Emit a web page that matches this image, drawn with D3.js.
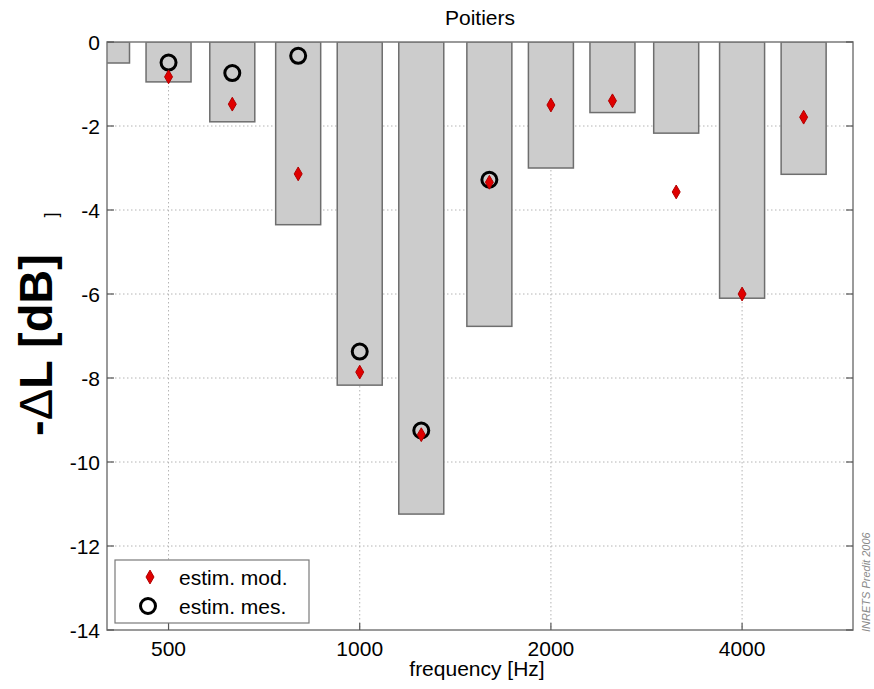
<!DOCTYPE html>
<html>
<head>
<meta charset="utf-8">
<script src="https://cdn.jsdelivr.net/npm/d3@7"></script>
<style>
  html, body { margin: 0; padding: 0; background: #fff; }
  svg { display: block; font-family: Arial, "Liberation Sans", sans-serif; }
</style>
</head>
<body>
<svg id="chart" width="874" height="689"></svg>
<script>
// Third-octave band centre frequencies (Hz)
const bands = [400, 500, 630, 800, 1000, 1250, 1600, 2000, 2500, 3150, 4000, 5000];
// Insertion loss per band, -ΔL (dB)
const deltaL = [-0.5, -0.95, -1.9, -4.35, -8.17, -11.24, -6.77, -3.0, -1.68, -2.17, -6.1, -3.15];
// Model estimate (null = not computed for that band)
const estimMod = [null, -0.83, -1.48, -3.14, -7.86, -9.35, -3.34, -1.5, -1.4, -3.57, -6.0, -1.79];
// Measurement estimate
const estimMes = [null, -0.49, -0.74, -0.33, -7.37, -9.25, -3.28, null, null, null, null, null];
// Axis ticks
const xTicks = [500, 1000, 2000, 4000];
const yTicks = [0, -2, -4, -6, -8, -10, -12, -14];

const svg = d3.select("#chart");
const m = { left: 107, right: 853, top: 42, bottom: 630 };

const x = d3.scaleLog().domain([400, 5980]).range([m.left, m.right]);
const y = d3.scaleLinear().domain([0, -14]).range([m.top, m.bottom]);

const axisColor = "#7a7a7a";
const barHalf = Math.pow(2, 0.1177); // bar spans ±0.118 octave around the band centre

svg.append("defs").append("clipPath").attr("id", "plotClip")
  .append("rect")
  .attr("x", m.left).attr("y", m.top)
  .attr("width", m.right - m.left).attr("height", m.bottom - m.top);

// Dotted grid
const grid = svg.append("g").attr("stroke", "#b4b4b4").attr("stroke-width", 1)
  .attr("stroke-dasharray", "1.5,2.5");
grid.selectAll("line.gy").data(yTicks.slice(1, -1)).join("line")
  .attr("x1", m.left).attr("x2", m.right)
  .attr("y1", d => y(d)).attr("y2", d => y(d));
grid.selectAll("line.gx").data(xTicks).join("line")
  .attr("x1", d => x(d)).attr("x2", d => x(d))
  .attr("y1", m.top).attr("y2", m.bottom);

// Bars
svg.append("g").attr("clip-path", "url(#plotClip)")
  .selectAll("rect").data(bands).join("rect")
  .attr("x", d => x(d / barHalf))
  .attr("width", d => x(d * barHalf) - x(d / barHalf))
  .attr("y", y(0))
  .attr("height", (d, i) => y(deltaL[i]) - y(0))
  .attr("fill", "#cccccc")
  .attr("stroke", "#6e6e6e")
  .attr("stroke-width", 1.5);

// Measurement estimates (open circles)
svg.append("g").selectAll("circle")
  .data(bands.map((f, i) => ({ f, v: estimMes[i] })).filter(d => d.v !== null))
  .join("circle")
  .attr("cx", d => x(d.f)).attr("cy", d => y(d.v))
  .attr("r", 7.5)
  .attr("fill", "none").attr("stroke", "#000").attr("stroke-width", 3);

// Model estimates (red diamonds)
const diamond = d3.symbol().type(d3.symbolDiamond).size(55);
svg.append("g").selectAll("path")
  .data(bands.map((f, i) => ({ f, v: estimMod[i] })).filter(d => d.v !== null))
  .join("path")
  .attr("transform", d => `translate(${x(d.f)},${y(d.v)})`)
  .attr("d", diamond)
  .attr("fill", "#e00000").attr("stroke", "#b00000").attr("stroke-width", 1);

// Axes box
svg.append("rect")
  .attr("x", m.left).attr("y", m.top)
  .attr("width", m.right - m.left).attr("height", m.bottom - m.top)
  .attr("fill", "none").attr("stroke", axisColor).attr("stroke-width", 1.5);

// Inward ticks
const tickLen = 7;
const ticks = svg.append("g").attr("stroke", "#555").attr("stroke-width", 1.2);
yTicks.forEach(t => {
  ticks.append("line").attr("x1", m.left).attr("x2", m.left + tickLen).attr("y1", y(t)).attr("y2", y(t));
  ticks.append("line").attr("x1", m.right).attr("x2", m.right - tickLen).attr("y1", y(t)).attr("y2", y(t));
});
xTicks.forEach(t => {
  ticks.append("line").attr("x1", x(t)).attr("x2", x(t)).attr("y1", m.bottom).attr("y2", m.bottom - tickLen);
});

// Tick labels (plain hyphen for negatives)
svg.append("g").selectAll("text").data(yTicks).join("text")
  .attr("x", m.left - 7).attr("y", d => y(d)).attr("dy", "0.36em")
  .attr("text-anchor", "end").attr("font-size", 21).attr("fill", "#000")
  .text(d => String(d));
svg.append("g").selectAll("text").data(xTicks).join("text")
  .attr("x", d => x(d)).attr("y", 656)
  .attr("text-anchor", "middle").attr("font-size", 21).attr("fill", "#000")
  .text(d => String(d));

// Titles
svg.append("text").attr("x", 480).attr("y", 25).attr("text-anchor", "middle")
  .attr("font-size", 21).text("Poitiers");
svg.append("text").attr("x", 477).attr("y", 676).attr("text-anchor", "middle")
  .attr("font-size", 21).text("frequency [Hz]");
const yl = svg.append("text").attr("transform", "translate(52,345) rotate(-90)")
  .attr("text-anchor", "middle").attr("font-size", 47).attr("font-weight", "bold");
yl.append("tspan").text("-");
yl.append("tspan").attr("font-weight", "normal").text("\u0394");
yl.append("tspan").text("L [dB]");
svg.append("text").attr("transform", "translate(57,215) rotate(-90)")
  .attr("text-anchor", "middle").attr("font-size", 18)
  .text("]");

// Watermark
svg.append("text").attr("transform", "translate(870,632) rotate(-90)")
  .attr("text-anchor", "start").attr("font-size", 11).attr("font-style", "italic")
  .attr("fill", "#8a8a8a").text("INRETS Predit 2006");

// Legend
const lg = svg.append("g");
lg.append("rect").attr("x", 115).attr("y", 560).attr("width", 194).attr("height", 63)
  .attr("fill", "#fff").attr("stroke", axisColor).attr("stroke-width", 1.2);
lg.append("path").attr("transform", "translate(150,577)").attr("d", diamond)
  .attr("fill", "#e00000").attr("stroke", "#b00000").attr("stroke-width", 1);
lg.append("circle").attr("cx", 148).attr("cy", 606).attr("r", 7.5)
  .attr("fill", "none").attr("stroke", "#000").attr("stroke-width", 3);
lg.append("text").attr("x", 179).attr("y", 577).attr("dy", "0.36em")
  .attr("font-size", 21).text("estim. mod.");
lg.append("text").attr("x", 179).attr("y", 606).attr("dy", "0.36em")
  .attr("font-size", 21).text("estim. mes.");
</script>
</body>
</html>
